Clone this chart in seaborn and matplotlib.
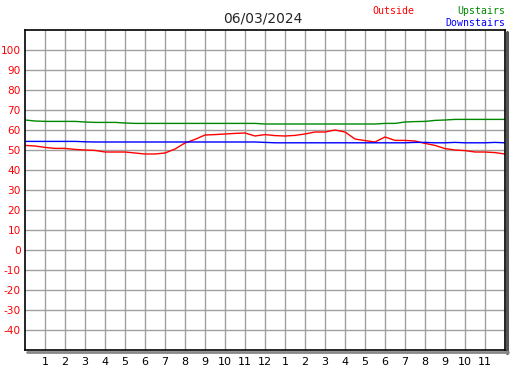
import matplotlib
matplotlib.use("Agg")
import matplotlib.pyplot as plt
import seaborn as sns
import pandas as pd
from matplotlib.lines import Line2D

# half hour readings, midnight to midnight
hours = [i * 0.5 for i in range(49)]

outside = [52.3, 52.0, 51.3, 50.8, 50.8, 50.3, 50.0, 49.8, 49.0, 49.0,
           49.0, 48.5, 48.0, 48.0, 48.5, 50.5, 53.5, 55.3, 57.5, 57.7,
           58.0, 58.3, 58.5, 57.0, 57.7, 57.2, 57.0, 57.3, 58.0, 59.0,
           59.0, 60.0, 59.0, 55.5, 54.7, 54.0, 56.5, 54.8, 54.8, 54.5,
           53.3, 52.3, 50.7, 50.0, 49.7, 49.0, 49.0, 48.7, 48.0]

upstairs = [65.0, 64.5, 64.3, 64.3, 64.3, 64.3, 64.0, 63.8, 63.8, 63.8,
            63.5, 63.3, 63.3, 63.3, 63.3, 63.3, 63.3, 63.3, 63.3, 63.3,
            63.3, 63.3, 63.3, 63.3, 63.0, 63.0, 63.0, 63.0, 63.0, 63.0,
            63.0, 63.0, 63.0, 63.0, 63.0, 63.0, 63.3, 63.3, 64.0, 64.2,
            64.3, 64.8, 65.0, 65.3, 65.3, 65.3, 65.3, 65.3, 65.3]

downstairs = [54.3, 54.3, 54.3, 54.3, 54.3, 54.3, 54.1, 54.0, 54.0, 54.0,
              54.0, 54.0, 54.0, 54.0, 54.0, 54.0, 54.0, 54.0, 54.0, 54.0,
              54.0, 54.0, 54.0, 54.0, 53.8, 53.6, 53.6, 53.6, 53.6, 53.6,
              53.6, 53.6, 53.6, 53.6, 53.6, 53.6, 53.6, 53.6, 53.6, 53.8,
              53.8, 53.6, 53.6, 53.8, 53.6, 53.6, 53.6, 53.8, 53.6]

x_ticks = list(range(1, 24))
x_labels = [str(h) for h in range(1, 12)] + ["12"] + [str(h) for h in range(1, 12)]
y_ticks = list(range(-40, 101, 10))

series = {"Outside": outside, "Upstairs": upstairs, "Downstairs": downstairs}
colors = {"Outside": "#ff0000", "Upstairs": "#008800", "Downstairs": "#0000ff"}

rows = []
for name, vals in series.items():
    for h, v in zip(hours, vals):
        rows.append([h, v, name])
df = pd.DataFrame(rows, columns=["hour", "temp", "sensor"])

sns.set_style("white")
plt.rcParams["font.family"] = ["DejaVu Sans"]

fig = plt.figure(figsize=(5.27, 3.70), dpi=100)
W, H = 527, 370
ax = fig.add_axes([25 / W, 20 / H, 480 / W, 320 / H])

# drop shadow right and bottom
fig.add_artist(Line2D([506.5 / W, 506.5 / W], [17 / H, 338 / H], color="#555555", lw=2.2))
fig.add_artist(Line2D([27 / W, 507.5 / W], [18.5 / H, 18.5 / H], color="#888888", lw=2))

sns.lineplot(data=df, x="hour", y="temp", hue="sensor", palette=colors,
             linewidth=1.0, legend=False, ax=ax)

ax.set_xlim(0, 24)
ax.set_ylim(-50, 110)
ax.set_xticks(x_ticks)
ax.set_xticklabels(x_labels, fontsize=8, color="black")
ax.set_yticks(y_ticks)
ax.set_yticklabels([str(v) for v in y_ticks], fontsize=7.6, color="#ff0000")
ax.set_xlabel("")
ax.set_ylabel("")
ax.grid(True, color="#a0a0a0", linewidth=1.0)
ax.set_axisbelow(True)
ax.tick_params(axis="both", direction="in", length=4, width=1, color="black", pad=3)
ax.tick_params(axis="x", pad=5)
for s in ax.spines.values():
    s.set_color("black")
    s.set_linewidth(1.2)

fig.text(263 / W, 1 - 19 / H, "06/03/2024", ha="center", va="center", fontsize=10)
fig.text(393 / W, 1 - 11 / H, "Outside", ha="center", va="center", fontsize=7.1,
         color="#ff0000", family="DejaVu Sans Mono")
fig.text(505 / W, 1 - 11 / H, "Upstairs", ha="right", va="center", fontsize=7.1,
         color="#008800", family="DejaVu Sans Mono")
fig.text(505 / W, 1 - 23 / H, "Downstairs", ha="right", va="center", fontsize=7.1,
         color="#0000ff", family="DejaVu Sans Mono")

fig.savefig("out.png", dpi=100, facecolor="white")
